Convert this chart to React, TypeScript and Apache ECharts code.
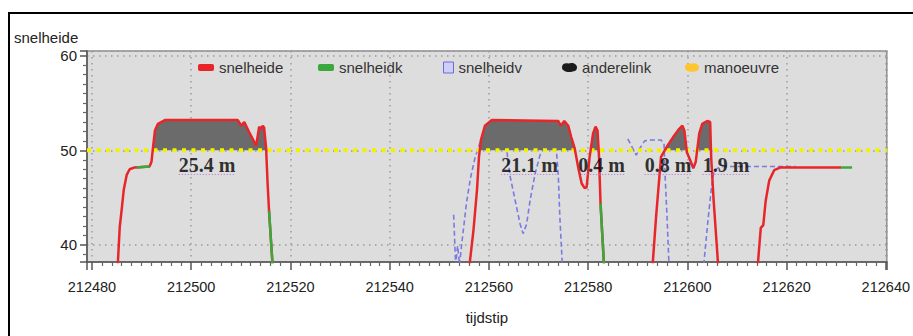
import { useEffect, useRef } from "react";
import * as echarts from "echarts";

type Pt = [number, number];

// Axis extents (tijdstip / snelheide)
const xMin = 212479;
const xMax = 212640.2;
const yMin = 38.2;
const yMax = 60.5;

// snelheide: measured speed, four separate runs
const snelheideRun1: Pt[] = [
  [212485.2, 37.9], [212485.6, 41.9], [212486.0, 43.8], [212486.4, 45.8], [212487.0, 47.4],
  [212487.6, 48.0], [212488.6, 48.2], [212491.6, 48.3], [212492.0, 48.8], [212492.3, 50.3],
  [212492.7, 52.1], [212493.3, 52.8], [212494.7, 53.2], [212509.4, 53.2], [212510.1, 52.6],
  [212510.7, 53.0], [212511.7, 51.9], [212513.1, 50.5], [212513.7, 52.5], [212514.0, 52.2],
  [212514.4, 52.6], [212514.7, 52.4], [212515.1, 50.2], [212515.4, 46.5], [212515.7, 43.5],
  [212516.4, 37.9],
];
const snelheideRun2: Pt[] = [
  [212556.1, 37.9], [212556.9, 41.6], [212557.6, 45.8], [212558.0, 49.3], [212558.4, 51.1],
  [212559.2, 52.6], [212560.6, 53.2], [212574.0, 53.1], [212574.5, 52.6], [212575.2, 53.1],
  [212576.0, 52.6], [212576.6, 51.4], [212577.3, 50.2], [212578.0, 48.2], [212578.7, 46.5],
  [212579.3, 46.0], [212579.7, 46.1], [212580.3, 49.3], [212581.0, 51.8], [212581.5, 52.5],
  [212581.9, 52.1], [212582.2, 49.3], [212582.5, 44.4], [212583.2, 37.9],
];
const snelheideRun3: Pt[] = [
  [212593.0, 37.9], [212593.7, 43.0], [212594.7, 49.3], [212596.0, 50.5], [212597.4, 51.6],
  [212598.4, 52.3], [212599.0, 52.6], [212599.4, 52.1], [212599.9, 49.8], [212600.7, 48.8],
  [212601.2, 48.1], [212601.7, 48.8], [212602.4, 51.8], [212603.0, 52.8], [212604.0, 53.1],
  [212604.6, 53.0], [212604.8, 49.3], [212605.3, 44.7], [212606.2, 37.9],
];
const snelheideRun4: Pt[] = [
  [212614.2, 37.9], [212614.8, 41.8], [212615.3, 42.1], [212615.8, 44.7], [212616.5, 46.8],
  [212617.5, 47.9], [212618.8, 48.2], [212631.0, 48.2],
];

// snelheidk: stretches where the k-speed is shown
const snelheidkRun1: Pt[] = [[212489.0, 48.2], [212491.6, 48.3]];
const snelheidkRun2: Pt[] = [[212515.7, 43.6], [212516.4, 37.9]];
const snelheidkRun3: Pt[] = [[212582.5, 44.4], [212583.2, 37.9]];
const snelheidkRun4: Pt[] = [[212631.0, 48.2], [212633.2, 48.2]];

// snelheidv: dashed speed trace
const snelheidvRun1: Pt[] = [
  [212552.9, 43.2], [212553.3, 37.9], [212553.7, 39.9], [212554.1, 37.9], [212554.5, 40.0],
  [212554.9, 41.8], [212555.5, 44.5], [212556.3, 47.1], [212557.2, 49.2], [212558.4, 51.1],
  [212559.6, 51.9], [212562.0, 51.6], [212563.6, 50.0], [212564.3, 47.2], [212565.3, 44.7],
  [212566.3, 42.2], [212566.9, 41.2], [212567.6, 42.2], [212568.3, 44.7], [212569.3, 47.5],
  [212570.3, 49.5], [212571.0, 50.1], [212572.3, 50.7], [212573.6, 50.1], [212574.0, 47.2],
  [212574.3, 43.0], [212574.8, 37.9],
];
const snelheidvRun2: Pt[] = [
  [212588.0, 51.2], [212589.0, 50.2], [212589.7, 49.5], [212590.4, 50.2], [212591.4, 51.0],
  [212592.7, 51.1], [212594.7, 51.1], [212595.3, 50.7], [212595.5, 47.5], [212595.9, 43.0],
  [212596.3, 37.9],
];
const snelheidvRun3: Pt[] = [
  [212603.3, 37.9], [212604.1, 42.3], [212604.8, 45.8], [212605.4, 47.9], [212606.8, 48.3],
  [212621.8, 48.3],
];

// manoeuvre threshold
const manoeuvreLevel = 50;

// distance annotations
const afstandLabels = ["25.4 m", "21.1 m", "0.4 m", "0.8 m", "1.9 m"];
const afstandX = [212503.2, 212568.2, 212582.7, 212596.1, 212607.8];
const afstandY = 48.4;

const snelheideRuns = [snelheideRun1, snelheideRun2, snelheideRun3, snelheideRun4];
const snelheidkRuns = [snelheidkRun1, snelheidkRun2, snelheidkRun3, snelheidkRun4];
const snelheidvRuns = [snelheidvRun1, snelheidvRun2, snelheidvRun3];

// Part of a run that lies above the threshold, with exact crossing points.
function aboveLevel(run: Pt[], level: number): Pt[] {
  const out: Pt[] = [];
  for (let i = 0; i < run.length; i++) {
    const [x, y] = run[i];
    if (i > 0) {
      const [px, py] = run[i - 1];
      if ((py - level) * (y - level) < 0) {
        const t = (level - py) / (y - py);
        out.push([px + t * (x - px), level]);
      }
    }
    out.push([x, Math.max(y, level)]);
  }
  return out;
}

const SANS = '"Liberation Sans", Arial, sans-serif';
const SERIF = '"Liberation Serif", "Times New Roman", serif';

const RED = "#e8262a";
const GREEN = "#3aa83a";
const BLUE = "#7a7ae2";
const FILL = "#6b6b6b";
const YELLOW = "#f2f200";

export default function App() {
  const ref = useRef<HTMLDivElement>(null);

  useEffect(() => {
    if (!ref.current) return;
    const chart = echarts.init(ref.current, undefined, { renderer: "svg" });

    const series: any[] = [];
    snelheidvRuns.forEach((run) =>
      series.push({
        name: "snelheidv",
        type: "line",
        data: run,
        showSymbol: false,
        color: BLUE,
        lineStyle: { color: BLUE, width: 1.6, type: [5, 3] },
        z: 2,
      })
    );
    snelheideRuns.forEach((run) =>
      series.push({
        name: "anderelink",
        type: "line",
        data: aboveLevel(run, manoeuvreLevel),
        showSymbol: false,
        color: FILL,
        lineStyle: { width: 0 },
        areaStyle: { color: FILL, opacity: 1, origin: manoeuvreLevel },
        z: 3,
      })
    );
    series.push({
      name: "manoeuvre",
      type: "line",
      data: [
        [xMin, manoeuvreLevel],
        [xMax, manoeuvreLevel],
      ],
      showSymbol: false,
      color: YELLOW,
      lineStyle: { color: YELLOW, width: 4, type: [4, 5.5] },
      z: 4,
    });
    snelheideRuns.forEach((run) =>
      series.push({
        name: "snelheide",
        type: "line",
        data: run,
        showSymbol: false,
        color: RED,
        lineStyle: { color: RED, width: 2.5 },
        z: 5,
      })
    );
    snelheidkRuns.forEach((run) =>
      series.push({
        name: "snelheidk",
        type: "line",
        data: run,
        showSymbol: false,
        color: GREEN,
        lineStyle: { color: GREEN, width: 2.5 },
        z: 6,
      })
    );
    series.push({
      name: "afstand",
      type: "scatter",
      data: afstandX.map((x, i) => ({ value: [x, afstandY], name: afstandLabels[i] })),
      symbolSize: 1,
      itemStyle: { color: "rgba(0,0,0,0)" },
      silent: true,
      label: {
        show: true,
        position: "inside",
        formatter: "{b}",
        fontFamily: SERIF,
        fontWeight: "bold",
        fontSize: 20,
        color: "#000",
        textBorderWidth: 0,
      },
      z: 8,
    });

    const legendText = { fontFamily: SANS, fontSize: 15, color: "#333" };
    const legendItem = (
      name: string,
      left: number,
      icon: string,
      w: number,
      h: number,
      itemStyle: any
    ) => ({
      show: true,
      left,
      top: 55,
      itemWidth: w,
      itemHeight: h,
      selectedMode: false,
      textStyle: legendText,
      data: [{ name, icon, itemStyle }],
    });

    const blob =
      "path://M1,5 C1,2 4,0 8,1 C11,0 15,0 17,3 C19,6 17,10 13,10 C10,11 6,11 3,9 C1,8 1,6 1,5 Z";

    chart.setOption({
      animation: false,
      backgroundColor: "#ffffff",
      grid: {
        left: 87,
        right: 24,
        top: 51,
        bottom: 74,
        show: true,
        backgroundColor: "#dddddd",
        borderColor: "#8f8f8f",
        borderWidth: 1.5,
      },
      legend: [
        legendItem("snelheide", 193, "roundRect", 16, 7, { color: RED }),
        legendItem("snelheidk", 313, "roundRect", 16, 7, { color: GREEN }),
        legendItem("snelheidv", 438, "rect", 10, 11, {
          color: "#cfcff5",
          borderColor: "#6b6be0",
          borderWidth: 1,
        }),
        legendItem("anderelink", 557, blob, 15, 11, { color: "#1c1c1c" }),
        legendItem("manoeuvre", 680, blob, 14, 10, { color: "#ffc52e" }),
      ],
      xAxis: {
        type: "value",
        min: xMin,
        max: xMax,
        splitNumber: 8,
        minInterval: 20,
        maxInterval: 20,
        name: "tijdstip",
        nameLocation: "middle",
        nameGap: 48,
        nameTextStyle: { fontFamily: SANS, fontSize: 15, color: "#222" },
        axisLine: { show: true, lineStyle: { color: "#555", width: 1.5 } },
        axisTick: { show: true, length: 8, lineStyle: { color: "#555", width: 1.5 } },
        minorTick: { show: true, splitNumber: 10, length: 4, lineStyle: { color: "#666", width: 1.2 } },
        axisLabel: {
          margin: 17,
          fontFamily: SANS,
          fontSize: 14.5,
          color: "#222",
          formatter: (v: number) => (Math.abs(v % 20) < 1e-6 ? String(v) : ""),
        },
        splitLine: { show: true, lineStyle: { color: "#9a9a9a", width: 1.5, type: [1.5, 4.5] } },
      },
      yAxis: {
        type: "value",
        min: yMin,
        max: yMax,
        splitNumber: 2,
        minInterval: 10,
        maxInterval: 10,
        axisLine: { show: true, lineStyle: { color: "#555", width: 1.5 } },
        axisTick: { show: true, length: 7, lineStyle: { color: "#555", width: 1.5 } },
        minorTick: { show: true, splitNumber: 10, length: 4, lineStyle: { color: "#666", width: 1.2 } },
        axisLabel: {
          margin: 10,
          fontFamily: SANS,
          fontSize: 15,
          color: "#222",
          formatter: (v: number) => (Math.abs(v % 10) < 1e-6 ? String(v) : ""),
        },
        splitLine: { show: true, lineStyle: { color: "#9a9a9a", width: 1.5, type: [1.5, 4.5] } },
      },
      series,
    });

    // frame, axis title and dotted underlines beneath the distance labels
    const ctx = document.createElement("canvas").getContext("2d");
    const labelFont = `bold 20px ${SERIF}`;
    if (ctx) ctx.font = labelFont;
    const underlines = afstandLabels.map((t, i) => {
      const p = chart.convertToPixel({ gridIndex: 0 }, [afstandX[i], afstandY]) as number[];
      const w = ctx ? ctx.measureText(t).width : t.length * 10;
      return {
        type: "line",
        silent: true,
        z: 9,
        shape: { x1: p[0] - w / 2, y1: p[1] + 9, x2: p[0] + w / 2, y2: p[1] + 9 },
        style: { stroke: "#b36fd0", lineWidth: 1, lineDash: [1, 2] },
      };
    });

    chart.setOption({
      graphic: [
        {
          type: "rect",
          silent: true,
          z: 20,
          shape: { x: 9, y: 13, width: 912, height: 340 },
          style: { fill: "none", stroke: "#000", lineWidth: 2 },
        },
        {
          type: "text",
          silent: true,
          x: 14,
          y: 37,
          style: {
            text: "snelheide",
            fontFamily: SANS,
            fontSize: 15,
            fill: "#222",
            verticalAlign: "middle",
          },
        },
        ...underlines,
      ],
    });

    return () => chart.dispose();
  }, []);

  return (
    <div
      ref={ref}
      style={{ position: "absolute", left: 0, top: 0, width: 913, height: 336, background: "#fff" }}
    />
  );
}
